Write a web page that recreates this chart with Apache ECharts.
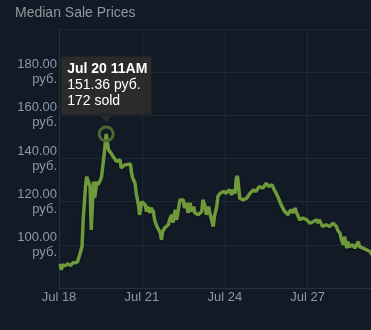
<!DOCTYPE html>
<html>
<head>
<meta charset="utf-8">
<title>Median Sale Prices</title>
<script src="https://cdn.jsdelivr.net/npm/echarts@6/dist/echarts.min.js"></script>
<style>
  html, body { margin: 0; padding: 0; background: #121a25; }
  #chart { width: 371px; height: 330px; }
</style>
</head>
<body>
<div id="chart"></div>
<script>
// Hourly median sale prices (UTC timestamps, price in руб.)
const times = [
  '2024-07-18T19:00','2024-07-18T20:00','2024-07-18T21:00','2024-07-18T23:00','2024-07-19T02:00',
  '2024-07-19T04:00','2024-07-19T06:00','2024-07-19T08:00','2024-07-19T10:00','2024-07-19T12:00',
  '2024-07-19T14:00','2024-07-19T15:00','2024-07-19T17:00','2024-07-19T18:00','2024-07-19T19:00',
  '2024-07-19T21:00','2024-07-19T22:00','2024-07-20T00:00','2024-07-20T01:00','2024-07-20T03:00',
  '2024-07-20T04:00','2024-07-20T06:00','2024-07-20T07:00','2024-07-20T09:00','2024-07-20T11:00',
  '2024-07-20T13:00','2024-07-20T15:00','2024-07-20T17:00','2024-07-20T20:00','2024-07-20T23:00',
  '2024-07-21T00:00','2024-07-21T03:00','2024-07-21T08:00','2024-07-21T09:00','2024-07-21T10:00',
  '2024-07-21T12:00','2024-07-21T13:00','2024-07-21T15:00','2024-07-21T16:00','2024-07-21T18:00',
  '2024-07-21T19:00','2024-07-21T21:00','2024-07-21T22:00','2024-07-21T23:00','2024-07-22T01:00',
  '2024-07-22T02:00','2024-07-22T04:00','2024-07-22T05:00','2024-07-22T07:00','2024-07-22T08:00',
  '2024-07-22T10:00','2024-07-22T11:00','2024-07-22T12:00','2024-07-22T14:00','2024-07-22T17:00',
  '2024-07-22T18:00','2024-07-22T20:00','2024-07-22T21:00','2024-07-22T23:00','2024-07-23T00:00',
  '2024-07-23T01:00','2024-07-23T03:00','2024-07-23T06:00','2024-07-23T07:00','2024-07-23T09:00',
  '2024-07-23T10:00','2024-07-23T12:00','2024-07-23T13:00','2024-07-23T15:00','2024-07-23T16:00',
  '2024-07-23T19:00','2024-07-23T20:00','2024-07-23T22:00','2024-07-23T23:00','2024-07-24T01:00',
  '2024-07-24T02:00','2024-07-24T04:00','2024-07-24T05:00','2024-07-24T06:00','2024-07-24T08:00',
  '2024-07-24T09:00','2024-07-24T11:00','2024-07-24T12:00','2024-07-24T14:00','2024-07-24T17:00',
  '2024-07-24T19:00','2024-07-24T22:00','2024-07-25T00:00','2024-07-25T01:00','2024-07-25T03:00',
  '2024-07-25T04:00','2024-07-25T05:00','2024-07-25T06:00','2024-07-25T07:00','2024-07-25T08:00',
  '2024-07-25T10:00','2024-07-25T13:00','2024-07-25T16:00','2024-07-25T19:00','2024-07-25T21:00',
  '2024-07-26T00:00','2024-07-26T03:00','2024-07-26T06:00','2024-07-26T08:00','2024-07-26T11:00',
  '2024-07-26T13:00','2024-07-26T16:00','2024-07-26T19:00','2024-07-26T22:00','2024-07-27T01:00',
  '2024-07-27T02:00','2024-07-27T04:00','2024-07-27T05:00','2024-07-27T07:00','2024-07-27T08:00',
  '2024-07-27T11:00','2024-07-27T14:00','2024-07-27T17:00','2024-07-27T20:00','2024-07-27T23:00',
  '2024-07-28T02:00','2024-07-28T03:00','2024-07-28T04:00','2024-07-28T07:00','2024-07-28T10:00',
  '2024-07-28T13:00','2024-07-28T16:00','2024-07-28T19:00','2024-07-28T20:00','2024-07-28T22:00',
  '2024-07-28T23:00','2024-07-29T01:00','2024-07-29T02:00','2024-07-29T04:00','2024-07-29T05:00',
  '2024-07-29T06:00','2024-07-29T09:00','2024-07-29T11:00','2024-07-29T14:00','2024-07-29T15:00',
  '2024-07-29T18:00','2024-07-29T21:00','2024-07-30T00:00','2024-07-30T02:00'
];
const prices = [
  91.2, 88.4, 90.7, 90.3, 91.2,
  90.4, 91.7, 91.7, 92.1, 95.4,
  99.2, 111.6, 126.9, 131.6, 130.1,
  126.9, 106.9, 129.3, 121.8, 129.3,
  127.8, 130.1, 131.6, 140.9, 151.36,
  144.0, 142.6, 140.9, 138.6, 139.4,
  135.6, 137.0, 137.5, 133.3, 131.0,
  128.7, 124.1, 118.5, 113.9, 120.0,
  120.8, 118.5, 115.4, 117.7, 114.8,
  117.1, 115.4, 111.6, 108.5, 107.9,
  105.6, 102.3, 106.2, 107.9, 109.3,
  111.6, 113.9, 110.2, 116.2, 111.6,
  113.9, 120.8, 120.8, 117.1, 119.4,
  114.8, 119.4, 115.3, 117.7, 114.8,
  113.9, 113.1, 115.4, 120.8, 117.7,
  113.9, 117.7, 114.8, 115.4, 108.5,
  113.1, 117.7, 122.4, 123.9, 124.7,
  123.9, 125.5, 123.1, 125.5, 123.9,
  130.9, 131.9, 127.0, 121.6, 122.4,
  120.8, 121.6, 123.9, 125.5, 124.7,
  127.0, 126.2, 128.6, 127.0, 127.8,
  125.5, 122.4, 118.5, 115.4, 113.9,
  115.4, 116.2, 114.7, 117.0, 115.4,
  111.6, 112.4, 111.6, 110.0, 110.8,
  111.6, 110.0, 111.6, 108.5, 109.3,
  108.5, 110.0, 108.5, 106.9, 105.4,
  103.1, 100.0, 103.8, 98.5, 101.5,
  99.2, 100.0, 98.5, 101.5, 99.2,
  98.5, 97.7, 96.9, 95.4
];
// Sales count at the highlighted hour
const peakSold = 172;

// Y axis ticks (руб.) and x axis tick step (hours)
const yTicks = [80, 100, 120, 140, 160, 180, 200];
const tickStepHours = 72;
const axisOrigin = '2024-07-18T18:00';
const axisSpanHours = 271;

const MONTHS = ['Jan','Feb','Mar','Apr','May','Jun','Jul','Aug','Sep','Oct','Nov','Dec'];
const HOUR = 3600000;
const parseUTC = s => new Date(s + ':00Z').getTime();
const origin = parseUTC(axisOrigin);
const toHours = s => (parseUTC(s) - origin) / HOUR;

const seriesData = times.map((t, i) => [toHours(t), prices[i]]);

// Highlighted point: the highest median price
let peakIdx = 0;
prices.forEach((p, i) => { if (p > prices[peakIdx]) peakIdx = i; });
const peakDate = new Date(parseUTC(times[peakIdx]));
const h24 = peakDate.getUTCHours();
const h12 = h24 % 12 === 0 ? 12 : h24 % 12;
const peakLabel = MONTHS[peakDate.getUTCMonth()] + ' ' + peakDate.getUTCDate() + ' ' + h12 + (h24 < 12 ? 'AM' : 'PM');
const peakCoord = seriesData[peakIdx];

const chart = echarts.init(document.getElementById('chart'), null, { renderer: 'canvas' });

const gridColor = '#1d2937';
const axisColor = '#223044';
const labelColor = '#8b98a8';
const font = 'Arial, "Liberation Sans", sans-serif';

chart.setOption({
  backgroundColor: '#121a25',
  animation: false,
  title: {
    text: 'Median Sale Prices',
    left: 10,
    top: 1,
    textStyle: { color: '#8f98a0', fontSize: 14, fontWeight: 'normal', fontFamily: font }
  },
  grid: { left: 59, top: 29, right: -2, bottom: 42, containLabel: false },
  xAxis: {
    type: 'value',
    min: 0,
    max: axisSpanHours,
    interval: tickStepHours,
    axisLine: { show: true, lineStyle: { color: axisColor, width: 1 } },
    axisTick: { show: false },
    splitLine: { show: true, lineStyle: { color: gridColor, width: 1 } },
    axisLabel: {
      color: labelColor,
      fontSize: 13,
      fontFamily: font,
      margin: 3,
      showMaxLabel: false,
      formatter: v => {
        if (v % tickStepHours !== 0) return '';
        const d = new Date(origin + v * HOUR);
        return MONTHS[d.getUTCMonth()] + ' ' + d.getUTCDate();
      }
    }
  },
  yAxis: {
    type: 'value',
    min: yTicks[0],
    max: yTicks[yTicks.length - 1],
    interval: yTicks[1] - yTicks[0],
    axisLine: { show: true, lineStyle: { color: axisColor, width: 1 } },
    axisTick: { show: false },
    splitLine: { show: true, lineStyle: { color: gridColor, width: 1 } },
    axisLabel: {
      color: labelColor,
      fontSize: 13,
      fontFamily: font,
      lineHeight: 15,
      margin: 2,
      align: 'right',
      formatter: v => (v === yTicks[0] || v === yTicks[yTicks.length - 1]) ? '' : v.toFixed(2) + '\nруб.'
    }
  },
  series: [{
    type: 'line',
    data: seriesData,
    showSymbol: false,
    symbol: 'none',
    clip: true,
    lineStyle: { color: '#6f9a3c', width: 3.5, shadowColor: 'rgba(0,0,0,0.35)', shadowBlur: 2, shadowOffsetY: 1 },
    markPoint: {
      silent: true,
      animation: false,
      data: [
        {
          coord: peakCoord,
          symbol: 'circle',
          symbolSize: 14,
          itemStyle: { color: 'rgba(0,0,0,0)', borderColor: '#4c6a2d', borderWidth: 3 },
          label: { show: false }
        },
        {
          coord: peakCoord,
          symbol: 'triangle',
          symbolSize: [12, 7],
          symbolRotate: 180,
          symbolOffset: [0, -15],
          itemStyle: { color: '#2b2b2b' },
          label: {
            show: true,
            position: 'top',
            distance: 1,
            offset: [-45, 0],
            backgroundColor: '#2b2b2b',
            padding: [5, 4, 5, 6],
            align: 'left',
            formatter: '{b|' + peakLabel + '}\n{n|' + prices[peakIdx].toFixed(2) + ' руб.}\n{n|' + peakSold + ' sold}',
            rich: {
              b: { color: '#ffffff', fontSize: 14, fontWeight: 'bold', fontFamily: font, lineHeight: 16 },
              n: { color: '#ffffff', fontSize: 14, fontFamily: font, lineHeight: 16 }
            }
          }
        }
      ]
    }
  }]
});
</script>
</body>
</html>
